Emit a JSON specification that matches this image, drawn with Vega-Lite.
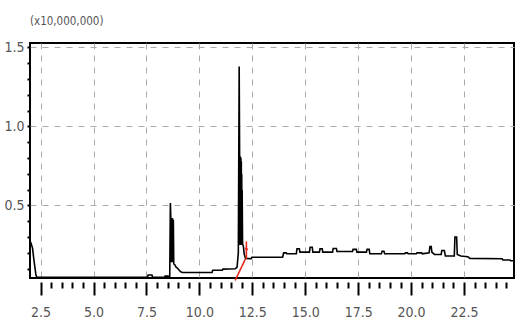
{
  "$schema": "https://vega.github.io/schema/vega-lite/v6.json",
  "width": 484,
  "height": 235,
  "autosize": {"type": "none"},
  "padding": {"left": 30, "top": 43, "right": 2, "bottom": 51},
  "background": "white",
  "config": {
    "view": {"stroke": "black", "strokeWidth": 2},
    "font": "DejaVu Sans Condensed, Liberation Sans Narrow, Liberation Sans, sans-serif"
  },
  "title": {
    "text": "(x10,000,000)",
    "anchor": "start",
    "frame": "group",
    "font": "DejaVu Sans Condensed, Liberation Sans Narrow, Liberation Sans, sans-serif",
    "fontSize": 11.5,
    "fontWeight": "normal",
    "color": "#555",
    "offset": 13
  },
  "datasets": {
    "trace": [
      {"t": 2.0, "v": 0.275}, {"t": 2.05, "v": 0.26}, {"t": 2.12, "v": 0.23}, {"t": 2.18, "v": 0.16},
      {"t": 2.24, "v": 0.1}, {"t": 2.28, "v": 0.06}, {"t": 2.32, "v": 0.047},
      {"t": 7.55, "v": 0.046}, {"t": 7.58, "v": 0.06}, {"t": 7.76, "v": 0.06}, {"t": 7.79, "v": 0.046},
      {"t": 8.36, "v": 0.046}, {"t": 8.38, "v": 0.053}, {"t": 8.52, "v": 0.053}, {"t": 8.55, "v": 0.047},
      {"t": 8.6, "v": 0.05}, {"t": 8.63, "v": 0.515}, {"t": 8.65, "v": 0.42}, {"t": 8.66, "v": 0.14},
      {"t": 8.67, "v": 0.42}, {"t": 8.68, "v": 0.14}, {"t": 8.69, "v": 0.42}, {"t": 8.7, "v": 0.14},
      {"t": 8.71, "v": 0.42}, {"t": 8.72, "v": 0.14}, {"t": 8.73, "v": 0.42}, {"t": 8.74, "v": 0.14},
      {"t": 8.75, "v": 0.41}, {"t": 8.76, "v": 0.14}, {"t": 8.77, "v": 0.41}, {"t": 8.79, "v": 0.13},
      {"t": 8.84, "v": 0.125}, {"t": 8.9, "v": 0.11},
      {"t": 8.95, "v": 0.105}, {"t": 9.0, "v": 0.098}, {"t": 9.05, "v": 0.09}, {"t": 9.12, "v": 0.08},
      {"t": 9.2, "v": 0.076}, {"t": 10.6, "v": 0.076}, {"t": 10.63, "v": 0.09}, {"t": 11.08, "v": 0.09},
      {"t": 11.11, "v": 0.097}, {"t": 11.7, "v": 0.1}, {"t": 11.78, "v": 0.11}, {"t": 11.84, "v": 0.2},
      {"t": 11.88, "v": 1.38}, {"t": 11.9, "v": 0.81}, {"t": 11.91, "v": 0.25}, {"t": 11.92, "v": 0.81},
      {"t": 11.93, "v": 0.25}, {"t": 11.94, "v": 0.81}, {"t": 11.95, "v": 0.25}, {"t": 11.96, "v": 0.8},
      {"t": 11.97, "v": 0.25}, {"t": 11.98, "v": 0.78}, {"t": 11.99, "v": 0.26}, {"t": 12.0, "v": 0.7},
      {"t": 12.01, "v": 0.26}, {"t": 12.02, "v": 0.6},
      {"t": 12.04, "v": 0.26}, {"t": 12.08, "v": 0.24}, {"t": 12.12, "v": 0.19}, {"t": 12.18, "v": 0.165},
      {"t": 12.45, "v": 0.163}, {"t": 12.48, "v": 0.172}, {"t": 13.93, "v": 0.172}, {"t": 13.98, "v": 0.2},
      {"t": 14.1, "v": 0.2}, {"t": 14.13, "v": 0.194}, {"t": 14.58, "v": 0.194}, {"t": 14.61, "v": 0.226},
      {"t": 14.72, "v": 0.226}, {"t": 14.75, "v": 0.205}, {"t": 15.2, "v": 0.205}, {"t": 15.23, "v": 0.236},
      {"t": 15.33, "v": 0.236}, {"t": 15.36, "v": 0.205}, {"t": 15.67, "v": 0.205}, {"t": 15.7, "v": 0.226},
      {"t": 15.8, "v": 0.226}, {"t": 15.83, "v": 0.205}, {"t": 16.29, "v": 0.205}, {"t": 16.32, "v": 0.228},
      {"t": 16.47, "v": 0.228}, {"t": 16.5, "v": 0.209}, {"t": 17.23, "v": 0.209}, {"t": 17.26, "v": 0.222},
      {"t": 17.41, "v": 0.222}, {"t": 17.44, "v": 0.205}, {"t": 17.89, "v": 0.205}, {"t": 17.92, "v": 0.222},
      {"t": 18.02, "v": 0.222}, {"t": 18.05, "v": 0.194}, {"t": 18.6, "v": 0.194}, {"t": 18.63, "v": 0.21},
      {"t": 18.72, "v": 0.21}, {"t": 18.75, "v": 0.194}, {"t": 19.7, "v": 0.194}, {"t": 19.73, "v": 0.2},
      {"t": 19.83, "v": 0.2}, {"t": 19.86, "v": 0.194}, {"t": 20.25, "v": 0.194}, {"t": 20.28, "v": 0.2},
      {"t": 20.5, "v": 0.2}, {"t": 20.53, "v": 0.194}, {"t": 20.85, "v": 0.2}, {"t": 20.89, "v": 0.24},
      {"t": 20.95, "v": 0.24}, {"t": 20.98, "v": 0.205}, {"t": 21.1, "v": 0.19}, {"t": 21.42, "v": 0.19},
      {"t": 21.45, "v": 0.215}, {"t": 21.57, "v": 0.215}, {"t": 21.62, "v": 0.18}, {"t": 22.04, "v": 0.18},
      {"t": 22.07, "v": 0.3}, {"t": 22.15, "v": 0.3}, {"t": 22.18, "v": 0.19}, {"t": 22.35, "v": 0.18},
      {"t": 22.68, "v": 0.175}, {"t": 22.78, "v": 0.165}, {"t": 24.3, "v": 0.163}, {"t": 24.34, "v": 0.155},
      {"t": 24.67, "v": 0.155}, {"t": 24.7, "v": 0.15}, {"t": 24.86, "v": 0.15}
    ],
    "marker": [
      {"seg": "a", "t": 11.69, "v": 0.025}, {"seg": "a", "t": 12.17, "v": 0.16},
      {"seg": "b", "t": 12.22, "v": 0.16}, {"seg": "b", "t": 12.221, "v": 0.272},
      {"seg": "c", "t": 12.15, "v": 0.228}, {"seg": "c", "t": 12.3, "v": 0.222}
    ]
  },
  "layer": [
    {
      "data": {"name": "trace"},
      "mark": {"type": "line", "color": "black", "strokeWidth": 1.6},
      "encoding": {
        "x": {
          "field": "t",
          "type": "quantitative",
          "scale": {"domain": [2.0, 24.86], "nice": false, "zero": false},
          "axis": {
            "title": null,
            "tickCount": 200,
            "values": [2.5, 3, 3.5, 4, 4.5, 5, 5.5, 6, 6.5, 7, 7.5, 8, 8.5, 9, 9.5, 10, 10.5, 11, 11.5, 12, 12.5, 13, 13.5, 14, 14.5, 15, 15.5, 16, 16.5, 17, 17.5, 18, 18.5, 19, 19.5, 20, 20.5, 21, 21.5, 22, 22.5, 23, 23.5, 24, 24.5],
            "labelExpr": "datum.value % 2.5 == 0 ? format(datum.value, '.1f') : ''",
            "tickSize": {"condition": {"test": "datum.value % 2.5 == 0", "value": 13}, "value": 6},
            "tickColor": "black",
            "tickWidth": 2,
            "domain": false,
            "offset": 4,
            "grid": true,
            "gridOpacity": {"condition": {"test": "datum.value % 2.5 == 0", "value": 1}, "value": 0},
            "gridColor": "#aaa",
            "gridDash": [6, 6],
            "gridWidth": 1,
            "labelFont": "DejaVu Sans Condensed, Liberation Sans Narrow, Liberation Sans, sans-serif",
            "labelFontSize": 14,
            "labelColor": "#555",
            "labelPadding": 10,
            "labelFlush": false,
            "labelOverlap": false
          }
        },
        "y": {
          "field": "v",
          "type": "quantitative",
          "scale": {"domain": [0.041, 1.528], "nice": false, "zero": false},
          "axis": {
            "title": null,
            "tickCount": 200,
            "values": [0.1, 0.2, 0.3, 0.4, 0.5, 0.6, 0.7, 0.8, 0.9, 1.0, 1.1, 1.2, 1.3, 1.4, 1.5],
            "labelExpr": "indexof([0.5, 1, 1.5], datum.value) >= 0 ? format(datum.value, '.1f') : ''",
            "tickSize": 3,
            "tickColor": "black",
            "tickWidth": 2,
            "domain": false,
            "grid": true,
            "gridOpacity": {"condition": {"test": "indexof([0.5, 1, 1.5], datum.value) >= 0", "value": 1}, "value": 0},
            "gridColor": "#aaa",
            "gridDash": [6, 6],
            "gridWidth": 1,
            "labelFont": "DejaVu Sans Condensed, Liberation Sans Narrow, Liberation Sans, sans-serif",
            "labelFontSize": 14,
            "labelColor": "#555",
            "labelPadding": 3,
            "labelFlush": false,
            "labelOverlap": false
          }
        }
      }
    },
    {
      "data": {"name": "marker"},
      "mark": {"type": "line", "color": "#e8281e", "strokeWidth": 1.6},
      "encoding": {
        "x": {"field": "t", "type": "quantitative"},
        "y": {"field": "v", "type": "quantitative"},
        "detail": {"field": "seg", "type": "nominal"}
      }
    }
  ]
}
